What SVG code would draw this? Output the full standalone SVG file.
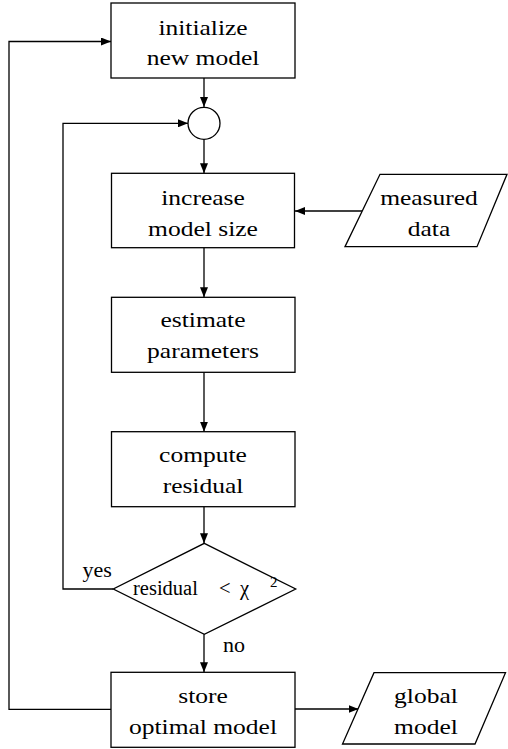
<svg xmlns="http://www.w3.org/2000/svg" width="508" height="749" viewBox="0 0 508 749" font-family="'Liberation Serif', 'Times New Roman', Tinos, 'DejaVu Serif', serif">
  <style>
    .shape { fill: #ffffff; stroke: #000000; stroke-width: 1.3; }
    .wire { fill: none; stroke: #000000; stroke-width: 1.3; }
    text { font-family: "Liberation Serif", "Times New Roman", Tinos, "DejaVu Serif", serif; }
    .lbl { font-size: 22px; fill: #000000; text-anchor: middle; }
    .free { font-size: 22px; fill: #000000; }
  </style>
  <defs>
    <marker id="arrow" viewBox="0 0 10 8" refX="10" refY="4" markerWidth="10" markerHeight="8" markerUnits="userSpaceOnUse" orient="auto">
      <path d="M0,0 L10,4 L0,8 Z" fill="#000000"/>
    </marker>
  </defs>
  <rect width="508" height="749" fill="#ffffff"/>

  <!-- connectors -->
  <g id="connectors">
    <path class="wire" d="M204,78 L204,107" marker-end="url(#arrow)"/>
    <path class="wire" d="M204,139.5 L204,173.3" marker-end="url(#arrow)"/>
    <path class="wire" d="M362,211 L295,211" marker-end="url(#arrow)"/>
    <path class="wire" d="M204,247.7 L204,297.3" marker-end="url(#arrow)"/>
    <path class="wire" d="M204,372.3 L204,431.7" marker-end="url(#arrow)"/>
    <path class="wire" d="M204,506.7 L204,543.3" marker-end="url(#arrow)"/>
    <path class="wire" d="M204,634.3 L204,672.3" marker-end="url(#arrow)"/>
    <path class="wire" d="M113.3,589 L63,589 L63,123.3 L188,123.3" marker-end="url(#arrow)"/>
    <path class="wire" d="M111,709.3 L9,709.3 L9,41.5 L111,41.5" marker-end="url(#arrow)"/>
    <path class="wire" d="M295,709 L358.5,709" marker-end="url(#arrow)"/>
    <text class="free" x="82.5" y="577">yes</text>
    <text class="free" x="223" y="652">no</text>
  </g>

  <g id="init">
    <rect class="shape" x="111" y="3" width="184" height="75"/>
    <g transform="translate(203,0) scale(1.16,1)">
      <text class="lbl" x="0" y="35.5">initialize</text>
      <text class="lbl" x="0" y="65.5">new model</text>
    </g>
  </g>

  <g id="junction">
    <circle class="shape" cx="204" cy="123.3" r="16"/>
  </g>

  <g id="increase">
    <rect class="shape" x="111.5" y="173.3" width="183" height="74.4"/>
    <g transform="translate(203,0) scale(1.16,1)">
      <text class="lbl" x="0" y="205">increase</text>
      <text class="lbl" x="0" y="236">model size</text>
    </g>
  </g>

  <g id="measured">
    <polygon class="shape" points="380,174.3 507,174.3 477,246.7 345,246.7"/>
    <g transform="translate(429,0) scale(1.16,1)">
      <text class="lbl" x="0" y="205.5">measured</text>
      <text class="lbl" x="0" y="236">data</text>
    </g>
  </g>

  <g id="estimate">
    <rect class="shape" x="111.5" y="297.3" width="183.5" height="75"/>
    <g transform="translate(203,0) scale(1.16,1)">
      <text class="lbl" x="0" y="327">estimate</text>
      <text class="lbl" x="0" y="358">parameters</text>
    </g>
  </g>

  <g id="compute">
    <rect class="shape" x="111.5" y="431.7" width="183.5" height="75"/>
    <g transform="translate(203,0) scale(1.16,1)">
      <text class="lbl" x="0" y="462">compute</text>
      <text class="lbl" x="0" y="493">residual</text>
    </g>
  </g>

  <g id="decision">
    <polygon class="shape" points="204.3,543.3 295.7,589 204.3,634.3 113.3,589"/>
    <text class="free" y="595" style="font-size:20.5px"><tspan x="133">residual</tspan><tspan x="219">&lt;</tspan><tspan x="240">χ</tspan><tspan x="270" y="587" style="font-size:15px">2</tspan></text>
  </g>

  <g id="store">
    <rect class="shape" x="111" y="672.3" width="184" height="75"/>
    <g transform="translate(203,0) scale(1.16,1)">
      <text class="lbl" x="0" y="703.5">store</text>
      <text class="lbl" x="0" y="734">optimal model</text>
    </g>
  </g>

  <g id="global">
    <polygon class="shape" points="374,672.7 505.5,672.7 475,744 342.5,744"/>
    <g transform="translate(426,0) scale(1.16,1)">
      <text class="lbl" x="0" y="703.5">global</text>
      <text class="lbl" x="0" y="734">model</text>
    </g>
  </g>
</svg>
